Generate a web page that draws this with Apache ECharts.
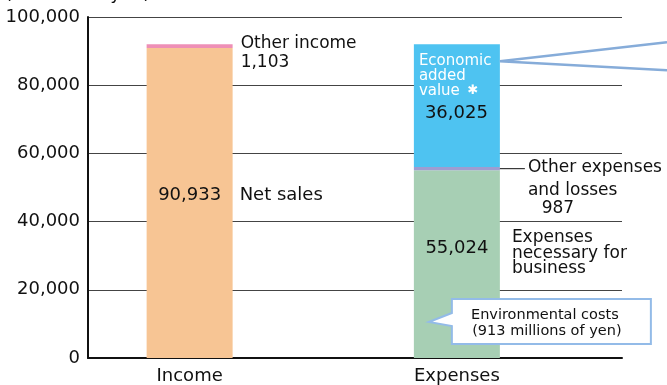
<!DOCTYPE html>
<html>
<head>
<meta charset="utf-8">
<script src="https://cdn.jsdelivr.net/npm/echarts@6/dist/echarts.min.js"></script>
<style>
  html, body { margin: 0; padding: 0; background: #ffffff; }
  #chart { width: 667px; height: 385px; }
</style>
</head>
<body>
<div id="chart"></div>
<script>
// Income / expenses breakdown (millions of yen)
const categories = ['Income', 'Expenses'];
const mainValues = [90933, 55024];   // Net sales | Expenses necessary for business
const otherValues = [1103, 987];     // Other income | Other expenses and losses
const addedValues = [null, 36025];   // Economic added value (expenses side only)
const envCost = 913;                 // Environmental costs, part of business expenses
const yTicks = [0, 20000, 40000, 60000, 80000, 100000];

const FONT = 'DejaVu Sans';
const INK = '#111111';
const fmt = v => v.toLocaleString('en-US');

const mainColors = ['#f7c594', '#a7cfb4'];
const otherColors = ['#ee8fb6', '#9d9dd1'];
const addedColor = '#4ec3f1';
const calloutBlue = '#86acd9';

const chart = echarts.init(document.getElementById('chart'), null, { renderer: 'canvas' });

const BAR_W = 86;
const Y_MIN = yTicks[0];
const Y_MAX = yTicks[yTicks.length - 1];

chart.setOption({
  animation: false,
  backgroundColor: '#ffffff',
  grid: [
    // frame grid: value axis, gridlines and baseline
    { left: 88, right: 45, top: 17, bottom: 27, containLabel: false },
    // bar grid: two category bands of 267px each
    { left: 56, right: 76.5, top: 17, bottom: 27, containLabel: false }
  ],
  xAxis: [
    {
      gridIndex: 0,
      type: 'value', min: 0, max: 1,
      axisLine: { show: true, lineStyle: { color: INK, width: 2 } },
      axisTick: { show: false },
      axisLabel: { show: false },
      splitLine: { show: false }
    },
    {
      gridIndex: 1,
      type: 'category',
      data: categories,
      axisLine: { show: false },
      axisTick: { show: false },
      splitLine: { show: false },
      axisLabel: { fontFamily: FONT, fontSize: 18, color: INK, margin: 9 }
    }
  ],
  yAxis: [
    {
      gridIndex: 0,
      type: 'value',
      min: Y_MIN, max: Y_MAX,
      interval: yTicks[1] - yTicks[0],
      axisLine: { show: true, onZero: false, lineStyle: { color: INK, width: 2 } },
      axisTick: { show: false },
      splitLine: { show: true, lineStyle: { color: '#444444', width: 1 } },
      axisLabel: {
        formatter: v => fmt(v),
        fontFamily: FONT, fontSize: 18, color: INK, margin: 8,
        padding: [4, 0, 0, 0]
      }
    },
    {
      gridIndex: 1,
      type: 'value',
      min: Y_MIN, max: Y_MAX,
      show: false,
      splitLine: { show: false }
    }
  ],
  series: [
    {
      name: 'main',
      type: 'bar',
      xAxisIndex: 1, yAxisIndex: 1,
      stack: 'total',
      barWidth: BAR_W,
      silent: true,
      data: mainValues.map((v, i) => ({
        value: v,
        itemStyle: { color: mainColors[i] },
        label: { offset: [0, i === 0 ? -8 : -16] }
      })),
      label: {
        show: true,
        position: 'inside',
        formatter: p => fmt(p.value),
        fontFamily: FONT, fontSize: 18, color: INK
      }
    },
    {
      name: 'other',
      type: 'bar',
      xAxisIndex: 1, yAxisIndex: 1,
      stack: 'total',
      barWidth: BAR_W,
      silent: true,
      data: otherValues.map((v, i) => ({
        value: v,
        itemStyle: { color: otherColors[i] }
      }))
    },
    {
      name: 'added',
      type: 'bar',
      xAxisIndex: 1, yAxisIndex: 1,
      stack: 'total',
      barWidth: BAR_W,
      silent: true,
      itemStyle: { color: addedColor },
      data: addedValues.map(v => (v == null ? '-' : v)),
      label: {
        show: true,
        position: [5, 9],
        formatter: p => '{t|Economic}\n{t|added}\n{t|value }{s|✱}\n{v|' + fmt(p.value) + '}',
        rich: {
          t: { fontFamily: FONT, fontSize: 15, lineHeight: 15, color: '#ffffff' },
          s: { fontFamily: FONT, fontSize: 13, lineHeight: 15, color: '#ffffff', padding: [0, 0, 0, 3] },
          v: { fontFamily: FONT, fontSize: 18, lineHeight: 30, color: INK, padding: [0, 0, 0, 6] }
        }
      }
    }
  ]
});

// Annotations placed from the data through the bar grid's coordinate system
const px = (x, y) => chart.convertToPixel({ xAxisIndex: 1, yAxisIndex: 1 }, [x, y]);
const half = BAR_W / 2;

const incomeTotal = mainValues[0] + otherValues[0];
const expenseTotal = mainValues[1] + otherValues[1] + addedValues[1];

const [incX, incTopY] = px(0, incomeTotal);
const netMidY = px(0, mainValues[0] / 2)[1];
const [expX, expTopY] = px(1, expenseTotal);
const otherExpY = px(1, mainValues[1] + otherValues[1] / 2)[1];
const bizMidY = px(1, mainValues[1] / 2)[1];
const zeroY = px(1, 0)[1];

const incRight = incX + half;
const expRight = expX + half;

const txt = (x, y, text, opt) => ({
  type: 'text',
  x, y,
  z: 100,
  silent: true,
  style: Object.assign({
    text,
    fontFamily: FONT,
    fontSize: 18,
    fill: INK,
    align: 'left',
    verticalAlign: 'middle'
  }, opt || {})
});

chart.setOption({
  graphic: [
    // unit caption
    txt(5, -6, '(millions of yen)'),

    // income side
    txt(incRight + 8, incTopY - 10, 'Other income\n' + fmt(otherValues[0]),
      { fontSize: 17, lineHeight: 19, verticalAlign: 'top' }),
    txt(incRight + 7, netMidY - 8, 'Net sales'),

    // economic added value callout lines
    {
      type: 'polyline',
      z: 100,
      silent: true,
      shape: { points: [[667, expTopY - 2], [expRight, expTopY + 17], [667, expTopY + 26]] },
      style: { stroke: calloutBlue, lineWidth: 2.5, fill: null }
    },

    // other expenses and losses
    {
      type: 'line',
      z: 100,
      silent: true,
      shape: { x1: expRight, y1: otherExpY, x2: expRight + 25, y2: otherExpY },
      style: { stroke: INK, lineWidth: 1 }
    },
    txt(expRight + 28, otherExpY - 1, 'Other expenses', { fontSize: 17 }),
    txt(expRight + 28, otherExpY + 22, 'and losses', { fontSize: 17 }),
    txt(expRight + 58, otherExpY + 40, fmt(otherValues[1]), { fontSize: 17, align: 'center' }),

    // business expenses
    txt(expRight + 12, bizMidY - 34, 'Expenses\nnecessary for\nbusiness',
      { fontSize: 17, lineHeight: 15.5, verticalAlign: 'top' }),

    // environmental costs callout
    {
      type: 'polygon',
      z: 100,
      silent: true,
      shape: {
        points: [
          [expX - 5, zeroY - 59], [expX + 194, zeroY - 59], [expX + 194, zeroY - 14],
          [expX - 5, zeroY - 14], [expX - 5, zeroY - 32], [expX - 28, zeroY - 36],
          [expX - 5, zeroY - 45]
        ]
      },
      style: { fill: '#ffffff', stroke: '#93bbe8', lineWidth: 2 }
    },
    txt(expX + 88, zeroY - 43, 'Environmental costs', { fontSize: 14.5, align: 'center' }),
    txt(expX + 90, zeroY - 27, '(' + fmt(envCost) + ' millions of yen)', { fontSize: 14.5, align: 'center' })
  ]
});
</script>
</body>
</html>
